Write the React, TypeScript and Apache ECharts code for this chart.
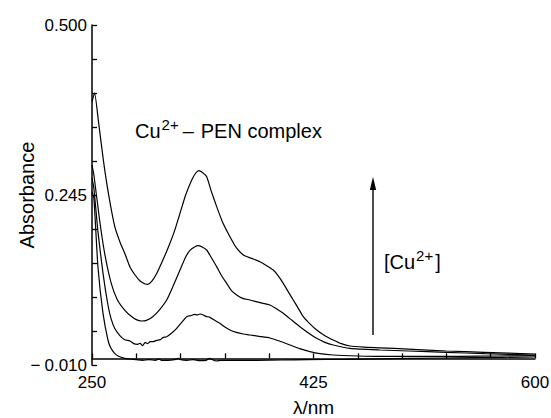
import React, { useEffect, useRef } from "react";
import * as echarts from "echarts";

// Wavelength (nm) / absorbance pairs, per curve
const curveBaseWl = [250, 251.5, 254.7, 258.7, 262.6, 265, 267.9, 271, 275.8, 280, 285, 290, 295, 300, 303, 305, 310, 315, 318, 320, 325, 330, 335, 340, 343, 345, 348, 352, 360, 380, 400, 420, 450, 500, 550, 600];
const curveBaseAbs = [0.25, 0.24, 0.137, 0.0675, 0.0275, 0.015, 0.0075, 0.003, 0.0, -0.001, -0.002, -0.003, -0.002, -0.003, -0.001, -0.003, -0.003, -0.002, 0.0, -0.002, -0.003, -0.002, -0.0035, -0.003, 0.0, -0.002, -0.004, -0.003, -0.003, -0.003, -0.0025, -0.002, -0.0015, 0.0, 0.001, 0.002];

const curveLowWl = [250, 251.5, 254.7, 258.7, 262.6, 265, 267.9, 272, 275.8, 280, 283, 286, 288, 290, 292, 294, 296, 298.4, 301, 304, 306, 309, 313, 316.9, 320, 324.8, 328, 331, 333, 335.3, 338, 340, 343.2, 347, 351.1, 355, 359, 364, 369.5, 374.8, 382, 390.6, 398, 406.4, 414, 422.2, 430, 440.6, 460, 477.5, 500, 540, 570, 600];
const curveLowAbs = [0.27, 0.255, 0.19, 0.1275, 0.08, 0.06, 0.045, 0.034, 0.028, 0.026, 0.022, 0.021, 0.0225, 0.019, 0.024, 0.022, 0.025, 0.025, 0.027, 0.028, 0.031, 0.0325, 0.038, 0.045, 0.052, 0.0625, 0.064, 0.066, 0.065, 0.0665, 0.065, 0.063, 0.0615, 0.057, 0.0525, 0.047, 0.0425, 0.039, 0.0365, 0.035, 0.033, 0.0305, 0.026, 0.02, 0.0145, 0.01, 0.007, 0.005, 0.0035, 0.0028, 0.0028, 0.003, 0.0035, 0.004];

const curveMidWl = [250, 251.5, 256, 260, 265.2, 270, 276, 281, 285, 289, 293, 298, 303, 309, 314, 319.5, 324, 327.4, 331, 334, 337, 340.6, 344, 348.5, 352, 356.4, 360, 364.3, 369, 374.8, 382.7, 390.6, 396, 401.1, 408, 414.3, 421, 427.5, 434, 440.6, 453.8, 477.5, 500, 530, 560, 600];
const curveMidAbs = [0.29, 0.275, 0.2075, 0.1575, 0.1125, 0.088, 0.072, 0.063, 0.058, 0.056, 0.057, 0.0625, 0.072, 0.0875, 0.108, 0.1325, 0.152, 0.162, 0.167, 0.169, 0.167, 0.1625, 0.152, 0.1375, 0.125, 0.1125, 0.102, 0.095, 0.09, 0.0875, 0.0835, 0.08, 0.074, 0.0675, 0.057, 0.0475, 0.038, 0.03, 0.024, 0.02, 0.015, 0.0125, 0.011, 0.009, 0.007, 0.005];

const curveTopWl = [250, 252, 255, 259, 263, 268, 272, 276, 280, 284, 288, 292, 294, 297, 301, 306, 310, 315, 319.5, 324, 328.8, 332, 334.5, 337, 340.6, 344, 348.5, 353, 359, 364, 369.5, 376, 382.7, 388, 393.2, 397, 401.1, 405, 409, 413, 416.9, 422, 427.5, 434, 440.6, 447, 453.8, 465, 477.5, 500, 530, 560, 600];
const curveTopAbs = [0.385, 0.398, 0.357, 0.297, 0.247, 0.1975, 0.175, 0.157, 0.137, 0.125, 0.116, 0.1115, 0.111, 0.115, 0.127, 0.1475, 0.165, 0.19, 0.2175, 0.245, 0.2675, 0.278, 0.2815, 0.279, 0.2725, 0.252, 0.2275, 0.205, 0.1825, 0.166, 0.155, 0.15, 0.145, 0.139, 0.1325, 0.124, 0.1125, 0.1, 0.0875, 0.075, 0.0625, 0.052, 0.0425, 0.034, 0.0275, 0.022, 0.0185, 0.0168, 0.0158, 0.0138, 0.011, 0.009, 0.0065];

const xTickValues = [250, 285, 320, 355, 390, 425, 460, 495, 530, 565, 600];
const xLabelValues = [250, 425, 600];
const yTickValues = [-0.01, 0.041, 0.092, 0.143, 0.194, 0.245, 0.296, 0.347, 0.398, 0.449, 0.5];
const yLabelValues = [-0.01, 0.245, 0.5];

const FONT = "'Liberation Sans', Arial, Helvetica, sans-serif";

const toPairs = (wl: number[], ab: number[]) => wl.map((w, i) => [w, ab[i]]);

export default function App() {
  const ref = useRef<HTMLDivElement>(null);
  useEffect(() => {
    document.body.style.margin = "0";
    const chart = echarts.init(ref.current!, undefined, { renderer: "svg" });
    const curves = [
      toPairs(curveBaseWl, curveBaseAbs),
      toPairs(curveLowWl, curveLowAbs),
      toPairs(curveMidWl, curveMidAbs),
      toPairs(curveTopWl, curveTopAbs),
    ];
    const richN = { fontSize: 20, fontFamily: FONT, fill: "#000", lineHeight: 28 };
    const richS = { fontSize: 15, fontFamily: FONT, fill: "#000", verticalAlign: "top", lineHeight: 14 };
    chart.setOption({
      animation: false,
      backgroundColor: "#fff",
      grid: { left: 92, right: 16, top: 25, bottom: 53, containLabel: false, outerBoundsMode: "none" },
      xAxis: {
        type: "value",
        min: 250,
        max: 600,
        name: "λ/nm",
        nameLocation: "middle",
        nameGap: 33,
        nameMoveOverlap: false,
        nameTextStyle: { color: "#000", fontSize: 19, fontFamily: FONT },
        axisLine: { show: true, lineStyle: { color: "#000", width: 1.5 } },
        axisTick: { show: true, inside: true, length: 5, customValues: xTickValues, lineStyle: { color: "#000", width: 1.3 } },
        axisLabel: { customValues: xLabelValues, color: "#000", fontSize: 17, fontFamily: FONT, margin: 9 },
        splitLine: { show: false },
      },
      yAxis: {
        type: "value",
        min: -0.01,
        max: 0.5,
        name: "Absorbance",
        nameLocation: "middle",
        nameGap: 55,
        nameMoveOverlap: false,
        nameTextStyle: { color: "#000", fontSize: 20, fontFamily: FONT },
        axisLine: { show: true, lineStyle: { color: "#000", width: 1.5 } },
        axisTick: { show: true, inside: true, length: 5, customValues: yTickValues, lineStyle: { color: "#000", width: 1.3 } },
        axisLabel: {
          customValues: yLabelValues,
          color: "#000",
          fontSize: 17,
          fontFamily: FONT,
          margin: 5,
          formatter: (v: number) =>
            v < 0 ? "{m|−}{v|" + Math.abs(v).toFixed(3) + "}" : v.toFixed(3),
          rich: {
            m: { fontSize: 17, fontFamily: FONT, color: "#000", padding: [0, 4, 0, 0] },
            v: { fontSize: 17, fontFamily: FONT, color: "#000" },
          },
        },
        splitLine: { show: false },
      },
      series: curves.map((d) => ({
        type: "line",
        data: d,
        showSymbol: false,
        symbol: "none",
        smooth: 0.2,
        lineStyle: { color: "#000", width: 1.2 },
      })),
      graphic: [
        {
          type: "text",
          style: {
            x: 135,
            y: 131,
            text: "{n|Cu}{s|2+}{d|–}{n|PEN complex}",
            verticalAlign: "middle",
            rich: {
              n: richN,
              s: { ...richS, padding: [0, 0, 0, 1] },
              d: { ...richN, padding: [0, 7, 0, 4] },
            },
          },
        },
        {
          type: "text",
          style: {
            x: 384,
            y: 262,
            text: "{n|[Cu}{s|2+}{n|]}",
            verticalAlign: "middle",
            rich: {
              n: richN,
              s: { ...richS, padding: [0, 2, 0, 1] },
            },
          },
        },
        {
          type: "line",
          shape: { x1: 373, y1: 335, x2: 373, y2: 186 },
          style: { stroke: "#000", lineWidth: 1.4 },
        },
        {
          type: "polygon",
          shape: { points: [[373, 177], [369.8, 190], [376.2, 190]] },
          style: { fill: "#000" },
        },
      ],
    });
    return () => chart.dispose();
  }, []);
  return <div ref={ref} style={{ width: 551, height: 418 }} />;
}
